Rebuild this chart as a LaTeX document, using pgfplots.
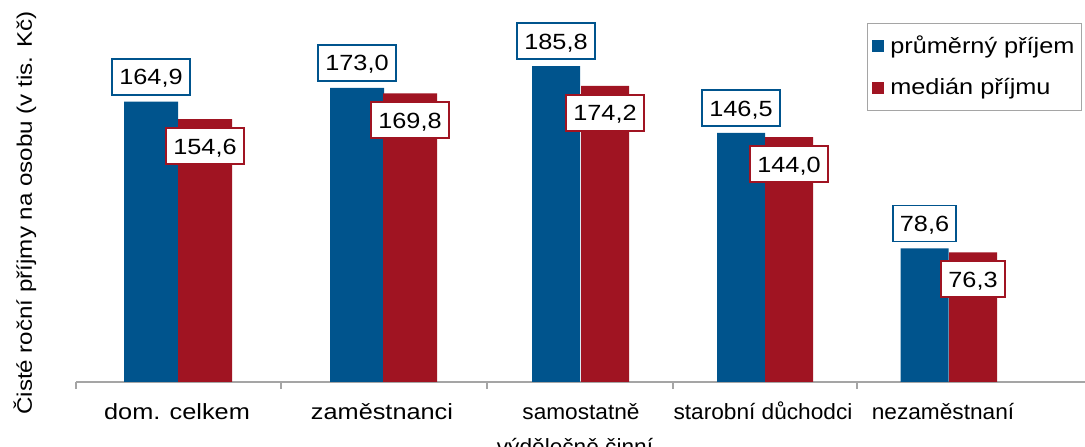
\documentclass[border=0pt]{standalone}
\usepackage{pgfplots}
\pgfplotsset{compat=1.18}
\usepackage{fontspec}
\setmainfont{Liberation Sans}[FakeStretch=1.15]
\newfontfamily\narrowfont{Liberation Sans}[FakeStretch=1.03]
\definecolor{cblue}{RGB}{0,84,141}
\definecolor{cred}{RGB}{160,20,34}
\definecolor{axgray}{RGB}{165,165,165}
\newcommand{\vlab}{\pgfmathprintnumber[fixed,fixed zerofill,precision=1,use comma,assume math mode=true]{\pgfplotspointmeta}}
\begin{document}
\fontsize{22}{26}\selectfont
\begin{tikzpicture}
\begin{axis}[
  at={(76pt,65pt)}, anchor=south west,
  scale only axis, width=1014pt, height=382pt,
  xmin=76, xmax=1090, ymin=0, ymax=224.7,
  axis x line*=bottom, axis y line=none,
  axis line style={axgray, line width=1.5pt},
  xtick={76,281,487,673,857}, xticklabels={},
  ytick=\empty,
  major tick length=7pt, tick align=outside,
  x tick style={axgray, line width=1.2pt},
  clip=false,
  legend cell align=left,
  legend style={at={(rel axis cs:0.9921,0.9398)}, anchor=north east,
    draw=axgray, line width=1pt, fill=white,
    inner xsep=5pt, inner ysep=10pt, row sep=18pt,
    font=\fontsize{22}{26}\selectfont},
  every node near coord/.append style={font=\fontsize{22}{26}\selectfont,
    fill=white, line width=1.8pt, inner xsep=7pt, inner ysep=0pt,
    minimum height=36pt, text height=16pt, text depth=0pt},
]
% průměrný příjem
\addplot[ybar, bar width=54, bar shift=0pt, fill=cblue, draw=none,
  nodes near coords={\vlab},
  every node near coord/.append style={draw=cblue, anchor=south, yshift=6pt},
  legend image code/.code={\fill[cblue] (0pt,-6pt) rectangle (12pt,6pt); \path (16pt,0pt);}]
  coordinates {(151,164.9) (357,173.0)};
\addlegendentry{průměrný příjem}
\addplot[ybar, bar width=48, bar shift=0pt, fill=cblue, draw=none, forget plot,
  nodes near coords={\vlab},
  every node near coord/.append style={draw=cblue, anchor=south, yshift=6pt}]
  coordinates {(556,185.8) (741,146.5) (924.5,78.6)};
% medián příjmu
\addplot[ybar, bar width=54, bar shift=0pt, fill=cred, draw=none,
  nodes near coords={\vlab},
  every node near coord/.append style={draw=cred, anchor=north, yshift=-8pt},
  legend image code/.code={\fill[cred] (0pt,-6pt) rectangle (12pt,6pt); \path (16pt,0pt);}]
  coordinates {(205,154.6) (410,169.8)};
\addlegendentry{medián příjmu}
\addplot[ybar, bar width=48, bar shift=0pt, fill=cred, draw=none, forget plot,
  nodes near coords={\vlab},
  every node near coord/.append style={draw=cred, anchor=north, yshift=-8pt}]
  coordinates {(605,174.2) (789,144.0) (973,76.3)};
% category labels
\node[anchor=base, yshift=-38pt] at (axis cs:177,0) {dom. celkem};
\node[anchor=base, yshift=-38pt] at (axis cs:382,0) {zaměstnanci};
\node[anchor=base, yshift=-38pt, font=\narrowfont] at (axis cs:581,0) {samostatně};
\node[anchor=base, yshift=-73pt, font=\narrowfont] at (axis cs:575,0) {výdělečně činní};
\node[anchor=base, yshift=-38pt, font=\narrowfont] at (axis cs:763,0) {starobní důchodci};
\node[anchor=base, yshift=-38pt, font=\narrowfont] at (axis cs:943,0) {nezaměstnaní};
\end{axis}
\node[rotate=90, font=\fontsize{21}{25}\selectfont] at (25pt,234pt) {Čisté roční příjmy na osobu (v tis. Kč)};
\pgfresetboundingbox
\path (0pt,0pt) rectangle (1085pt,447pt);
\end{tikzpicture}
\end{document}
